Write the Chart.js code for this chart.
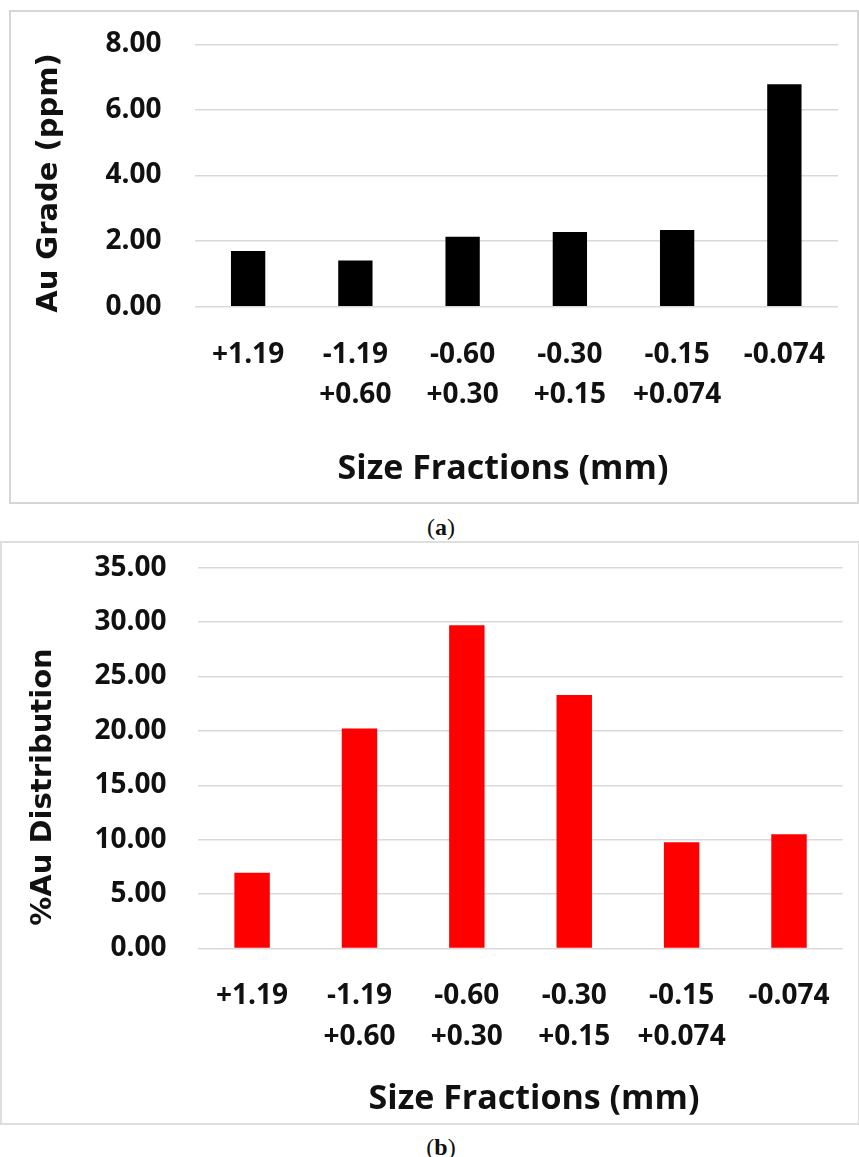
<!DOCTYPE html>
<html>
<head>
<meta charset="utf-8">
<script src="https://cdn.jsdelivr.net/npm/chart.js@4"></script>
<style>
  body { margin: 0; background: #fff; width: 859px; height: 1157px; position: relative; overflow: hidden; }
  .panel { position: absolute; box-sizing: border-box; }
  #boxA { left: 9px; top: 10px; width: 850px; height: 494px; border: 2px solid #d6d6d6; }
  #boxB { left: 0px; top: 541px; width: 860px; height: 584px; border: 2px solid #dedede; }
  canvas { position: absolute; }
  #chartA { left: 9px; top: 10px; }
  #chartB { left: 0px; top: 541px; }
  .cap { position: absolute; width: 100px; text-align: center; font-family: "Liberation Serif", serif; font-size: 24px; line-height: 28px; color: #111; }
</style>
</head>
<body>
<div class="panel" id="boxA"></div>
<div class="panel" id="boxB"></div>
<canvas id="chartA" width="850" height="494" style="width:850px;height:494px"></canvas>
<canvas id="chartB" width="859" height="584" style="width:859px;height:584px"></canvas>
<div class="cap" style="left:391px;top:513px">(<b>a</b>)</div>
<div class="cap" style="left:391px;top:1133px">(<b>b</b>)</div>
<script>
var sizeFractions = [["+1.19"], ["-1.19", "+0.60"], ["-0.60", "+0.30"], ["-0.30", "+0.15"], ["-0.15", "+0.074"], ["-0.074"]];
var auGrade = [1.70, 1.41, 2.13, 2.28, 2.34, 6.78];
var auDistribution = [6.97, 20.22, 29.70, 23.29, 9.77, 10.50];
var xTitleText = "Size Fractions (mm)";
var gradeTitle = "Au Grade (ppm)";
var distTitle = "%Au Distribution";

var tickFont = { family: "'Open Sans', sans-serif", size: 28, weight: "bold" };
var textColor = "#111";

// axis titles are drawn by hand so they can sit off-centre like the original
var axisTitles = {
  id: "axisTitles",
  afterDraw: function (chart, args, opts) {
    var ctx = chart.ctx;
    ctx.save();
    ctx.fillStyle = textColor;
    ctx.textAlign = "center";
    ctx.textBaseline = "middle";
    ctx.font = "bold 34px 'Open Sans', sans-serif";
    ctx.fillText(opts.xText, opts.xX, opts.xY);
    ctx.translate(opts.yX, opts.yY);
    ctx.rotate(-Math.PI / 2);
    ctx.font = "bold 29px 'DejaVu Sans', sans-serif";
    ctx.fillText(opts.yText, 0, 0);
    ctx.restore();
  }
};

function makeChart(id, values, color, barPct, yMax, yStep, geo) {
  return new Chart(document.getElementById(id), {
    type: "bar",
    data: {
      labels: sizeFractions,
      datasets: [{
        data: values,
        backgroundColor: color,
        borderWidth: 0,
        categoryPercentage: 1,
        barPercentage: barPct
      }]
    },
    options: {
      responsive: false,
      animation: false,
      layout: { padding: { top: geo.top, right: geo.right, left: 0, bottom: 0 } },
      plugins: {
        legend: { display: false },
        tooltip: { enabled: false },
        axisTitles: geo.titles
      },
      scales: {
        x: {
          grid: { display: false },
          border: { display: false },
          ticks: {
            color: textColor,
            maxRotation: 0,
            autoSkip: false,
            padding: geo.xPad,
            font: Object.assign({}, tickFont, { lineHeight: geo.lineH })
          },
          afterFit: function (s) { s.height = geo.xHeight; }
        },
        y: {
          min: 0,
          max: yMax,
          grid: { color: "#d9d9d9", lineWidth: 1.5, drawTicks: false },
          border: { display: false },
          ticks: {
            stepSize: yStep,
            color: textColor,
            padding: geo.yPad,
            font: tickFont,
            callback: function (v) { return v.toFixed(2); }
          },
          afterFit: function (s) {
            s.width = geo.yWidth;
            // tick padding would otherwise be pushed into the top margin too
            s.paddingTop = 0;
            s.paddingBottom = 0;
          }
        }
      }
    },
    plugins: [axisTitles]
  });
}

makeChart("chartA", auGrade, "#000000", 0.32, 8, 2, {
  top: 34.3, right: 21, yWidth: 185.5, xHeight: 197.3, xPad: 20, yPad: 33, lineH: 40 / 28,
  titles: { xText: xTitleText, xX: 494, xY: 459, yText: gradeTitle, yX: 40, yY: 173 }
});

makeChart("chartB", auDistribution, "#ff0000", 0.33, 35, 5, {
  top: 26.7, right: 16.3, yWidth: 198.4, xHeight: 176.5, xPad: 19, yPad: 32, lineH: 41 / 28,
  titles: { xText: xTitleText, xX: 534, xY: 558, yText: distTitle, yX: 43, yY: 246 }
});
</script>
</body>
</html>
